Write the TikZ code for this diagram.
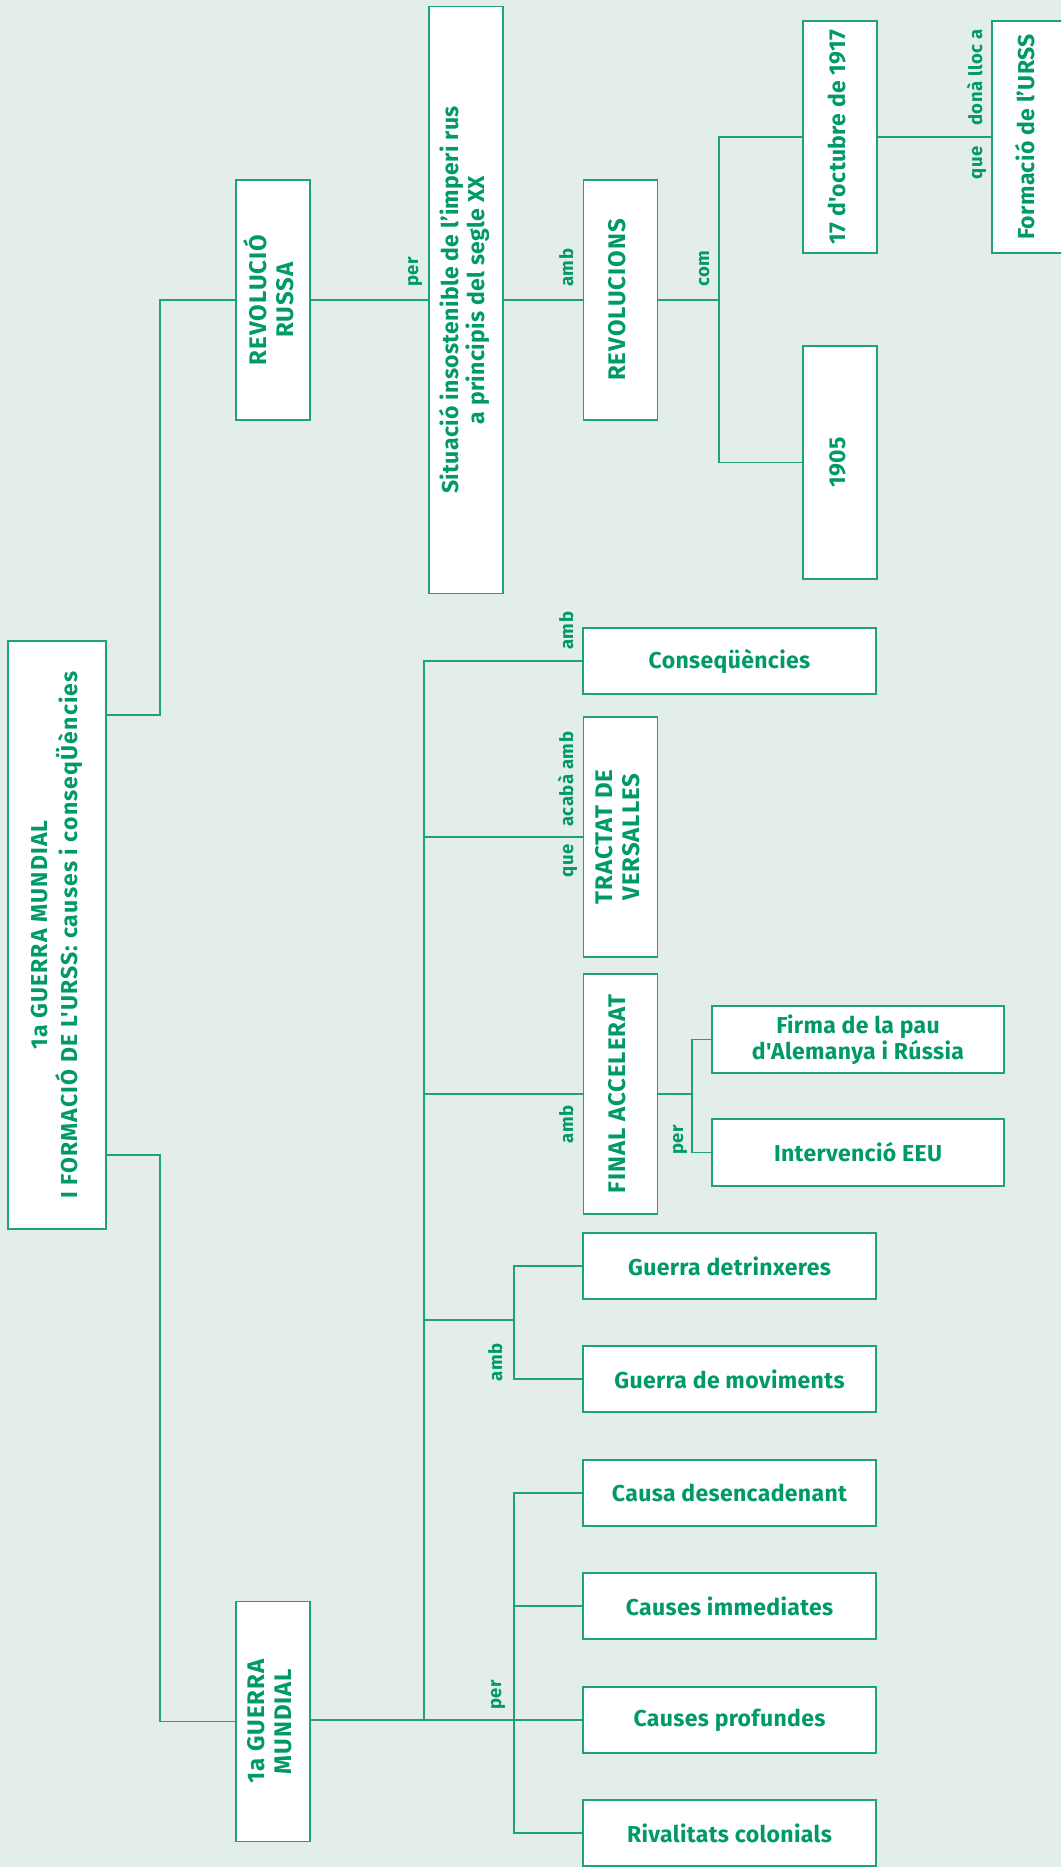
\documentclass[tikz,border=0pt]{standalone}
\usepackage{fontspec}
\setmainfont{Fira Sans}
\newfontfamily\capsfont{Fira Sans}[LetterSpace=4.0]
\newfontfamily\mainfontsp{Fira Sans}[LetterSpace=5.0]
\newfontfamily\boxfam{Fira Sans}[LetterSpace=1.5]
\newfontfamily\lblfam{Fira Sans}[LetterSpace=3.0]
\definecolor{bgc}{RGB}{228,238,232}
\definecolor{textgreen}{RGB}{0,154,106}
\definecolor{linegreen}{RGB}{30,163,120}
\newcommand{\boxfont}{\boxfam\fontsize{23}{26}\selectfont\bfseries}
\newcommand{\capfont}{\capsfont\fontsize{24}{27}\selectfont\bfseries}
\newcommand{\mainfont}{\mainfontsp\fontsize{23}{27}\selectfont\bfseries}
\newcommand{\lblfont}{\lblfam\fontsize{18.5}{21}\selectfont\bfseries}
\newcommand{\vtext}[1]{\rotatebox{90}{\begin{tabular}{@{}c@{}}#1\end{tabular}}}
\tikzset{
  box/.style={draw=linegreen, line width=1.8pt, fill=white, inner sep=0pt, text=textgreen, font=\boxfont},
  vbox/.style={box, minimum width=74pt, minimum height=240pt},
  hbox/.style={box, minimum width=293pt, minimum height=66pt, align=center},
  conn/.style={draw=linegreen, line width=1.6pt},
  lbl/.style={text=textgreen, font=\lblfont, inner sep=0pt, rotate=90},
}
\begin{document}
\begin{tikzpicture}[x=1pt,y=-1pt]
\useasboundingbox (0,0) rectangle (1061,1867);
\fill[bgc] (0,0) rectangle (1061,1867);
\clip (0,0) rectangle (1061,1867);

% main
\node[box, font=\mainfont, minimum width=98pt, minimum height=588pt] (main) at (57,935)
  {\vtext{1a GUERRA MUNDIAL\\I FORMACIÓ DE L'URSS: causes i conseqÜències}};

% upper branch
\node[vbox, font=\capfont] (rev) at (273,300) {\vtext{REVOLUCIÓ\\RUSSA}};
\node[box, minimum width=74pt, minimum height=587pt] (sit) at (466,300)
  {\vtext{Situació insostenible de l’imperi rus\\a principis del segle XX}};
\node[vbox, font=\capfont] (revs) at (620.5,300) {\vtext{REVOLUCIONS}};
\node[box, minimum width=74pt, minimum height=232pt] (oct) at (840,137) {\vtext{17 d'octubre de 1917}};
\node[box, minimum width=74pt, minimum height=232pt] (urss) at (1029,137) {\vtext{Formació de l’URSS}};
\node[box, minimum width=74pt, minimum height=233pt] (y1905) at (840,462.5) {\vtext{1905}};

% lower branch
\node[vbox, font=\capfont] (gm) at (273,1721.5) {\vtext{1a GUERRA\\MUNDIAL}};
\node[hbox] (cons) at (729.5,661) {Conseqüències};
\node[vbox, font=\capfont] (trac) at (620.5,837) {\vtext{TRACTAT DE\\VERSALLES}};
\node[vbox, font=\capfont] (fin) at (620.5,1094) {\vtext{FINAL ACCELERAT}};
\node[hbox, minimum width=292pt, minimum height=67pt] (firma) at (858,1039.5) {Firma de la pau\\d'Alemanya i Rússia};
\node[hbox, minimum width=292pt, minimum height=67pt] (eeu) at (858,1152.5) {Intervenció EEU};
\node[hbox] (trinx) at (729.5,1266) {Guerra detrinxeres};
\node[hbox] (movi) at (729.5,1379) {Guerra de moviments};
\node[hbox] (causa) at (729.5,1493) {Causa desencadenant};
\node[hbox] (immed) at (729.5,1606) {Causes immediates};
\node[hbox] (prof) at (729.5,1720) {Causes profundes};
\node[hbox] (rival) at (729.5,1833) {Rivalitats colonials};

% junctions
\coordinate (j1) at (160,715);
\coordinate (j2) at (160,1155);
\coordinate (jc) at (719,300);
\coordinate (tx) at (424,1720);
\coordinate (fj) at (692,1094);
\coordinate (gj) at (514,1320);
\coordinate (pj) at (514,1720);

% connectors
\draw[conn] (j1 -| main.east) -- (j1) |- (rev.west);
\draw[conn] (j2 -| main.east) -- (j2) |- (gm.west);
\draw[conn] (rev.east) -- (sit.west);
\draw[conn] (sit.east) -- (revs.west);
\draw[conn] (revs.east) -- (jc);
\draw[conn] (oct.west) -| (jc) |- (y1905.west);
\draw[conn] (oct.east) -- (urss.west);

\draw[conn] (gm.east |- tx) -- (prof.west);
\draw[conn] (cons.west) -| (tx);
\draw[conn] (trac.west) -- (trac.west -| tx);
\draw[conn] (fin.west) -- (fin.west -| tx);
\draw[conn] (fin.east) -- (fj);
\draw[conn] (firma.west) -| (fj) |- (eeu.west);
\draw[conn] (gj -| tx) -- (gj);
\draw[conn] (trinx.west) -| (gj) |- (movi.west);
\draw[conn] (causa.west) -| (pj) |- (rival.west);
\draw[conn] (immed.west) -- (immed.west -| pj);

% labels
\node[lbl, anchor=base west] (l1) at (418,287) {per};
\node[lbl, anchor=base west] (l2) at (573,287) {amb};
\node[lbl, anchor=base west] (l3) at (709,287) {com};
\node[lbl, anchor=base west] (l4) at (982,126) {donà lloc a};
\node[lbl, anchor=base east] (l5) at (982,146) {que};
\node[lbl, anchor=base west] (l6) at (573,650) {amb};
\node[lbl, anchor=base west] (l7) at (573,827) {acabà amb};
\node[lbl, anchor=base east] (l8) at (573,844) {que};
\node[lbl, anchor=base east] (l9) at (573,1105) {amb};
\node[lbl, anchor=base east] (l10) at (683,1125) {per};
\node[lbl, anchor=base east] (l11) at (502,1343) {amb};
\node[lbl, anchor=base west] (l12) at (501,1710) {per};
\end{tikzpicture}
\end{document}
